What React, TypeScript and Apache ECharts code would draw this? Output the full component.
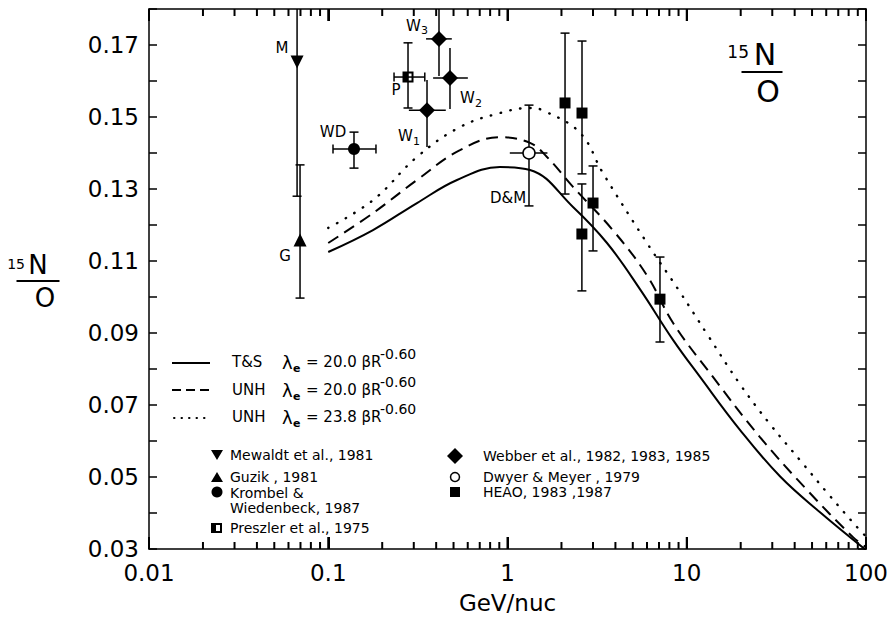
import React, { useEffect, useRef } from "react";
import * as echarts from "echarts";

const FONT = "DejaVu Sans, sans-serif";

const xTickLabels = ["0.01", "0.1", "1", "10", "100"];
const yTickLabels = ["0.03", "0.05", "0.07", "0.09", "0.11", "0.13", "0.15", "0.17"];
const minorMultipliers = [2, 3, 4, 5, 6, 7, 8, 9];
const decades = [0.01, 0.1, 1, 10];
const majorTicks = [0.01, 0.1, 1, 10, 100];

// model curves [GeV/nuc, 15N/O]
const tsCurve: [number, number][] = [
  [0.1, 0.1125], [0.1777, 0.1186], [0.3126, 0.1261], [0.5228, 0.1325], [0.908, 0.1361],
  [1.335, 0.1353], [2.32, 0.125], [3.59, 0.115], [5.48, 0.1022], [8.38, 0.0881],
  [11.86, 0.0778], [19.8, 0.0631], [33.1, 0.0502], [55.4, 0.0402], [100, 0.0297],
];
const unh20Curve: [number, number][] = [
  [0.1, 0.115], [0.1777, 0.1233], [0.3126, 0.1325], [0.543, 0.1408], [0.908, 0.1444],
  [1.335, 0.1428], [1.66, 0.1389], [2.32, 0.1306], [3.88, 0.1185], [6.0, 0.106],
  [8.41, 0.0927], [14.0, 0.0778], [25.6, 0.0611], [46.9, 0.0464], [84.6, 0.0333], [100, 0.0305],
];
const unh238Curve: [number, number][] = [
  [0.1, 0.1192], [0.1777, 0.1269], [0.3126, 0.1389], [0.543, 0.1472], [0.908, 0.1511],
  [1.335, 0.1525], [1.6, 0.1517], [2.54, 0.1456], [3.41, 0.1344], [6.0, 0.115],
  [8.94, 0.1022], [13.1, 0.0894], [19.8, 0.0758], [28.8, 0.065], [42.8, 0.0547],
  [63.0, 0.0447], [90.2, 0.0358], [100, 0.0335],
];

// measurements: [x, y, xLo, xHi, yLo, yHi]
type Pt = [number, number, number | null, number | null, number | null, number | null];
const mewaldt: Pt[] = [[0.067, 0.1653, null, null, 0.128, 0.19]];
const guzik: Pt[] = [[0.0696, 0.1158, null, null, 0.0997, 0.1367]];
const krombel: Pt[] = [[0.1392, 0.1411, 0.1063, 0.1846, 0.1358, 0.1458]];
const preszler: Pt[] = [[0.2786, 0.1611, 0.2328, 0.3456, 0.1525, 0.1706]];
const webber: Pt[] = [
  [0.3556, 0.1519, 0.2817, 0.4526, 0.1417, 0.1603],
  [0.4777, 0.1608, 0.3846, 0.6009, 0.1522, 0.1692],
  [0.4148, 0.1717, 0.3513, 0.489, 0.1614, 0.19],
];
const dwyer: Pt[] = [[1.318, 0.14, 1.03, 1.67, 0.1253, 0.1533]];
const heao: Pt[] = [
  [2.094, 0.1539, null, null, 0.1286, 0.1733],
  [2.604, 0.1511, null, null, 0.1342, 0.1711],
  [2.6, 0.1175, null, null, 0.1017, 0.1314],
  [3.0, 0.1261, null, null, 0.1128, 0.1364],
  [7.09, 0.0994, null, null, 0.0875, 0.1111],
];

const mewaldtLabels = ["M"];
const guzikLabels = ["G"];
const krombelLabels = ["WD"];
const preszlerLabels = ["P"];
const webberLabels = ["1", "2", "3"];
const dwyerLabels = ["D&M"];

function errSeries(points: Pt[], capX: boolean, capY: boolean) {
  return {
    type: "custom",
    silent: true,
    z: 3,
    data: points.map((p) => [p[0], p[1]]),
    renderItem: (params: any, api: any) => {
      const d = points[params.dataIndex];
      const cs = params.coordSys;
      const top = cs.y;
      const bottom = cs.y + cs.height;
      const st = { stroke: "#000", lineWidth: 1.5 };
      const c = api.coord([d[0], d[1]]);
      const children: any[] = [];
      const cap = 4.5;
      if (d[4] != null && d[5] != null) {
        let yl = api.coord([d[0], d[4]])[1];
        let yh = api.coord([d[0], d[5]])[1];
        const hc = yh < top;
        const lc = yl > bottom;
        yh = Math.max(yh, top);
        yl = Math.min(yl, bottom);
        children.push({ type: "line", shape: { x1: c[0], y1: yl, x2: c[0], y2: yh }, style: st });
        if (capY) {
          if (!lc) children.push({ type: "line", shape: { x1: c[0] - cap, y1: yl, x2: c[0] + cap, y2: yl }, style: st });
          if (!hc) children.push({ type: "line", shape: { x1: c[0] - cap, y1: yh, x2: c[0] + cap, y2: yh }, style: st });
        }
      }
      if (d[2] != null && d[3] != null) {
        const xl = api.coord([d[2], d[1]])[0];
        const xh = api.coord([d[3], d[1]])[0];
        children.push({ type: "line", shape: { x1: xl, y1: c[1], x2: xh, y2: c[1] }, style: st });
        if (capX) {
          children.push({ type: "line", shape: { x1: xl, y1: c[1] - cap, x2: xl, y2: c[1] + cap }, style: st });
          children.push({ type: "line", shape: { x1: xh, y1: c[1] - cap, x2: xh, y2: c[1] + cap }, style: st });
        }
      }
      return { type: "group", children };
    },
  };
}

const labelRich = {
  m: { fontSize: 15, fontFamily: FONT, color: "#000" },
  s: { fontSize: 11, fontFamily: FONT, color: "#000", padding: [10, 0, 0, 0] },
};

function scatterSeries(
  points: Pt[],
  symbol: string,
  size: number,
  opts: any,
  labels?: string[],
  offsets?: [number, number][],
  sub?: boolean
) {
  return {
    type: "scatter",
    z: 5,
    symbol,
    symbolSize: size,
    ...opts,
    data: points.map((p, i) => ({
      value: [p[0], p[1]],
      label: labels
        ? {
            show: true,
            position: "inside",
            color: "#000",
            offset: offsets ? offsets[i] : [0, 0],
            formatter: sub ? "{m|W}{s|" + labels[i] + "}" : "{m|" + labels[i] + "}",
            rich: labelRich,
          }
        : { show: false },
    })),
  };
}

function frac(cx: number, y: number, fs: number, supFs: number, lineW: number, nx: number, ox: number, supRight: number) {
  return [
    { type: "text", x: nx, y: y - 3, style: { text: "N", font: `${fs}px ${FONT}`, fill: "#000", textAlign: "center", textVerticalAlign: "bottom" } },
    { type: "text", x: supRight, y: y - fs * 0.4, style: { text: "15", font: `${supFs}px ${FONT}`, fill: "#000", textAlign: "right", textVerticalAlign: "bottom" } },
    { type: "line", shape: { x1: cx - lineW / 2, y1: y, x2: cx + lineW / 2, y2: y }, style: { stroke: "#000", lineWidth: 2 } },
    { type: "text", x: ox, y: y + 4, style: { text: "O", font: `${fs}px ${FONT}`, fill: "#000", textAlign: "center", textVerticalAlign: "top" } },
  ];
}

function lambdaRow(y: number, model: string, coef: string) {
  const f = (s: number) => `${s}px ${FONT}`;
  return [
    { type: "text", x: 232, y, style: { text: model, font: f(15), fill: "#000", textVerticalAlign: "middle" } },
    { type: "text", x: 282, y, style: { text: "λ", font: f(18), fill: "#000", textVerticalAlign: "middle" } },
    { type: "text", x: 293, y: y + 6, style: { text: "e", font: `bold ${f(11)}`, fill: "#000", textVerticalAlign: "middle" } },
    { type: "text", x: 306, y, style: { text: "= " + coef + " βR", font: f(15), fill: "#000", textVerticalAlign: "middle" } },
    { type: "text", x: 380, y: y - 8, style: { text: "-0.60", font: f(14), fill: "#000", textVerticalAlign: "middle" } },
  ];
}

function legendText(x: number, y: number, text: string) {
  return { type: "text", x, y, style: { text, font: `14px ${FONT}`, fill: "#000", textVerticalAlign: "middle" } };
}

export default function App() {
  const ref = useRef<HTMLDivElement>(null);
  useEffect(() => {
    if (!ref.current) return;
    const chart = echarts.init(ref.current, undefined, { renderer: "svg" });
    // tick table: [value, length in px]
    const tickData: [number, number][] = [];
    decades.forEach((d) => minorMultipliers.forEach((m) => tickData.push([m * d, 0.1])));
    const tickLen: number[] = tickData.map(() => 7);
    majorTicks.forEach((v) => {
      tickData.push([v, 0.1]);
      tickLen.push(12);
    });

    const axisLineStyle = { color: "#000", width: 1.5 };
    const curveBase = { type: "line", symbol: "none", smooth: 0.4, z: 2, silent: true };
    const solidItem = { color: "#000", opacity: 1 };

    const xAxisBase = (pos: string) => ({
      type: "log", min: 0.01, max: 100, position: pos, z: 10,
      axisLine: { show: true, lineStyle: { color: "#000", width: 1.5 } },
      axisTick: { show: true, inside: true, length: 12, lineStyle: { color: "#000", width: 2 } },
      splitLine: { show: false },
    });

    const option: any = {
      animation: false,
      backgroundColor: "#fff",
      grid: { left: 149, right: 25, top: 9, bottom: 72 },
      xAxis: [
        {
          ...xAxisBase("bottom"),
          axisLabel: {
            color: "#000", fontSize: 23, fontFamily: FONT, margin: 12,
            formatter: (v: number) => xTickLabels[Math.round(Math.log10(v)) + 2] ?? "",
          },
          name: "GeV/nuc", nameLocation: "middle", nameGap: 42,
          nameTextStyle: { color: "#000", fontSize: 23, fontFamily: FONT },
        },
        { ...xAxisBase("top"), axisLabel: { show: false } },
      ],
      yAxis: [
        {
          type: "value", min: 0.03, max: 0.18, interval: 0.01, position: "left",
          axisLine: { show: true, lineStyle: axisLineStyle },
          axisTick: { show: true, inside: true, length: 8, lineStyle: { color: "#000", width: 1.5 } },
          axisLabel: {
            color: "#000", fontSize: 23, fontFamily: FONT, margin: 10,
            formatter: (v: number) => {
              const k = Math.round(v * 100);
              return k % 2 === 1 ? yTickLabels[(k - 3) / 2] ?? "" : "";
            },
          },
          splitLine: { show: false },
        },
        {
          type: "value", min: 0.03, max: 0.18, interval: 0.01, position: "right",
          axisLine: { show: true, lineStyle: { color: "#000", width: 1.5 } },
          axisTick: { show: true, inside: true, length: 8, lineStyle: { color: "#000", width: 1.5 } },
          axisLabel: { show: false },
          splitLine: { show: false },
        },
      ],
      series: [
        {
          type: "custom", z: 20, data: tickData,
          renderItem: (params: any, api: any) => {
            const v = tickData[params.dataIndex][0];
            const len = tickLen[params.dataIndex];
            const c = api.coord([v, 0.1]);
            const yb = api.coord([v, 0.03])[1];
            const yt = api.coord([v, 0.18])[1];
            const st = { stroke: "#000", lineWidth: 2 };
            return {
              type: "group",
              children: [
                { type: "line", shape: { x1: c[0], y1: yb, x2: c[0], y2: yb - len }, style: st },
                { type: "line", shape: { x1: c[0], y1: yt, x2: c[0], y2: yt + len }, style: st },
              ],
            };
          },
        },
        { ...curveBase, name: "T&S", data: tsCurve, lineStyle: { color: "#000", width: 2 } },
        { ...curveBase, name: "UNH 20.0", data: unh20Curve, lineStyle: { color: "#000", width: 2, type: [12, 7] } },
        { ...curveBase, name: "UNH 23.8", data: unh238Curve, lineStyle: { color: "#000", width: 2.4, type: [0.5, 9.5], cap: "round" } },
        errSeries(mewaldt, false, true),
        errSeries(guzik, false, true),
        errSeries(krombel, true, true),
        errSeries(preszler, true, true),
        errSeries(webber, false, false),
        errSeries(dwyer, false, true),
        errSeries(heao, false, true),
        scatterSeries(mewaldt, "triangle", 13, { symbolRotate: 180, itemStyle: solidItem }, mewaldtLabels, [[-15, -14]]),
        scatterSeries(guzik, "triangle", 13, { itemStyle: solidItem }, guzikLabels, [[-15, 16]]),
        scatterSeries(krombel, "circle", 12, { itemStyle: solidItem }, krombelLabels, [[-21, -17]]),
        scatterSeries(
          preszler,
          "path://M0,0L10,0L10,10L0,10Z M5,1.8L5,8.2L8.2,8.2L8.2,1.8Z",
          11,
          { itemStyle: solidItem },
          preszlerLabels,
          [[-12, 13]]
        ),
        scatterSeries(webber, "diamond", 16, { itemStyle: solidItem }, webberLabels, [[-18, 26], [21, 20], [-22, -13]], true),
        scatterSeries(dwyer, "circle", 12, { itemStyle: { color: "#fff", borderColor: "#000", borderWidth: 1.5, opacity: 1 } }, dwyerLabels, [[-21, 45]]),
        scatterSeries(heao, "rect", 11, { itemStyle: solidItem }),
      ],
      graphic: [
        ...frac(38, 281, 26, 14, 43, 38, 45, 25),
        ...frac(762, 72, 30, 17, 41, 765, 768, 749),
        { type: "line", shape: { x1: 172, y1: 363, x2: 210, y2: 363 }, style: { stroke: "#000", lineWidth: 2 } },
        { type: "line", shape: { x1: 172, y1: 390, x2: 210, y2: 390 }, style: { stroke: "#000", lineWidth: 2, lineDash: [9, 5] } },
        { type: "line", shape: { x1: 174, y1: 418, x2: 210, y2: 418 }, style: { stroke: "#000", lineWidth: 2, lineDash: [0.5, 7], lineCap: "round" } },
        ...lambdaRow(362, "T&S", "20.0"),
        ...lambdaRow(390, "UNH", "20.0"),
        ...lambdaRow(417, "UNH", "23.8"),
        { type: "polygon", shape: { points: [[211, 450], [223, 450], [217, 460]] }, style: { fill: "#000" } },
        legendText(230, 455, "Mewaldt et al., 1981"),
        { type: "polygon", shape: { points: [[211, 482], [223, 482], [217, 472]] }, style: { fill: "#000" } },
        legendText(230, 477, "Guzik , 1981"),
        { type: "circle", shape: { cx: 217, cy: 492, r: 5.5 }, style: { fill: "#000" } },
        legendText(230, 493, "Krombel &"),
        legendText(230, 508, "Wiedenbeck, 1987"),
        { type: "rect", shape: { x: 211, y: 523, width: 11, height: 10 }, style: { fill: "#000" } },
        { type: "rect", shape: { x: 216, y: 525, width: 4, height: 6 }, style: { fill: "#fff" } },
        legendText(230, 528, "Preszler et al., 1975"),
        { type: "polygon", shape: { points: [[455, 448], [463, 456], [455, 464], [447, 456]] }, style: { fill: "#000" } },
        legendText(483, 456, "Webber et al., 1982, 1983, 1985"),
        { type: "circle", shape: { cx: 455, cy: 477, r: 4.5 }, style: { fill: "#fff", stroke: "#000", lineWidth: 1.5 } },
        legendText(483, 477, "Dwyer & Meyer , 1979"),
        { type: "rect", shape: { x: 450, y: 487, width: 10, height: 10 }, style: { fill: "#000" } },
        legendText(483, 492, "HEAO, 1983 ,1987"),
      ],
    };
    chart.setOption(option);
    return () => chart.dispose();
  }, []);
  return <div ref={ref} style={{ position: "absolute", left: 0, top: 0, width: 891, height: 621 }} />;
}
